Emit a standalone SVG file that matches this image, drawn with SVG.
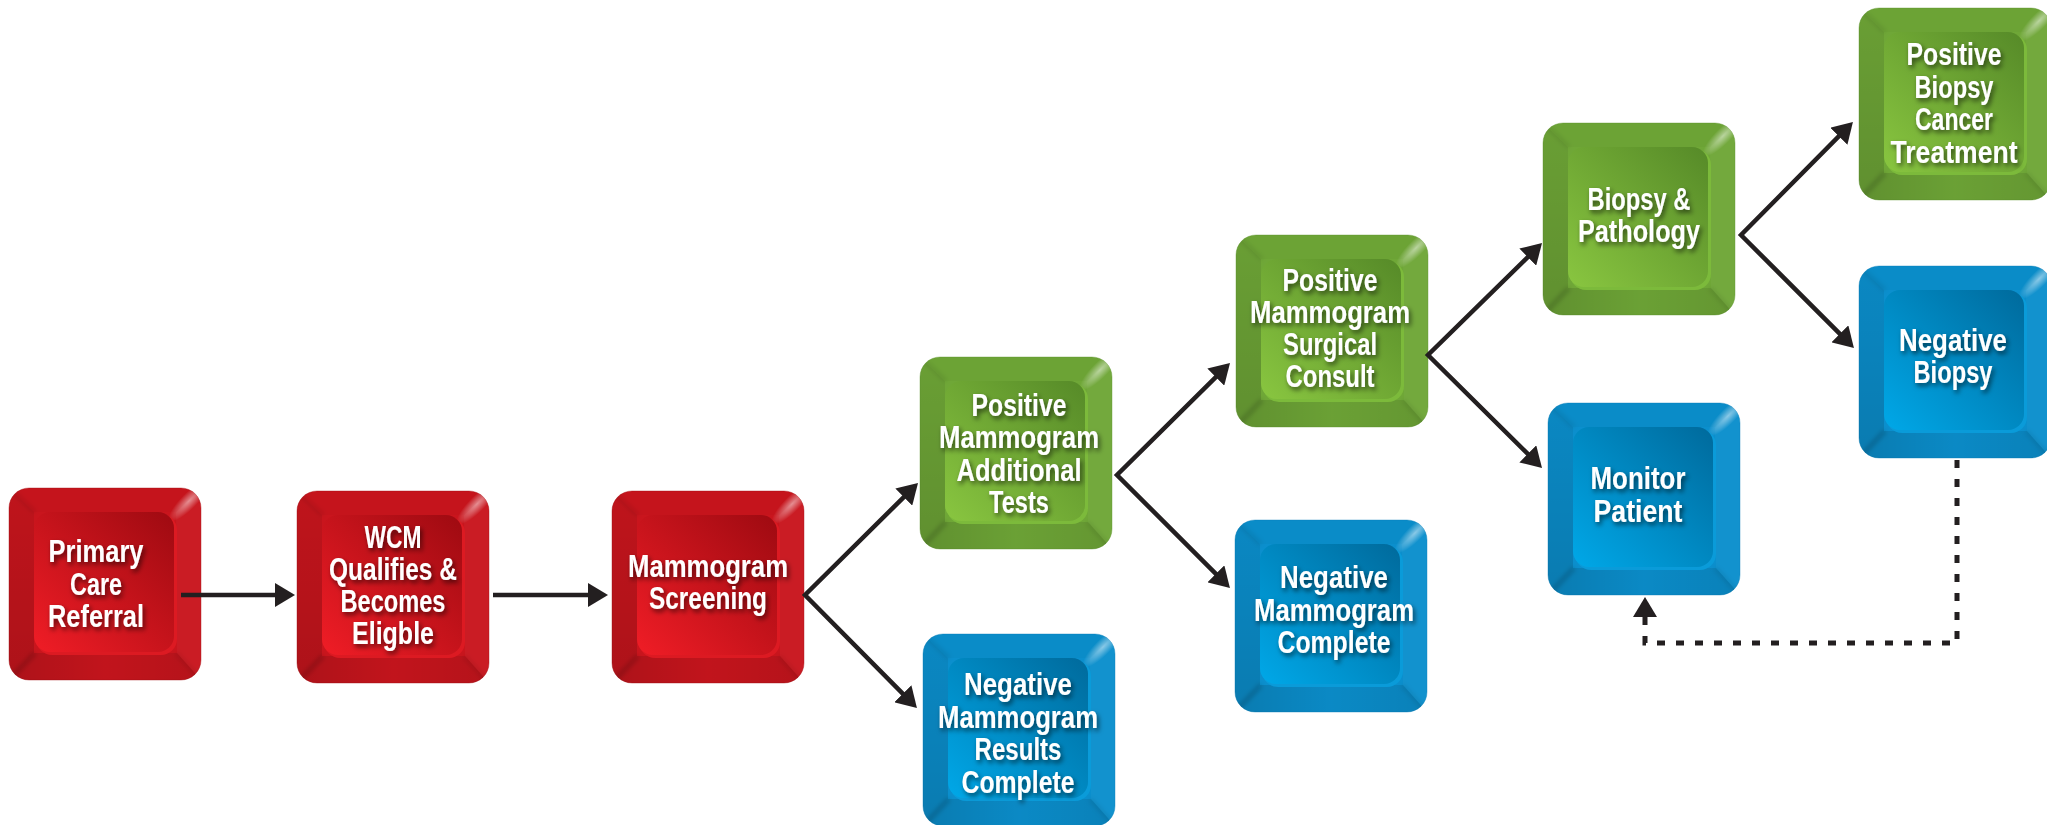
<svg xmlns="http://www.w3.org/2000/svg" xmlns:xlink="http://www.w3.org/1999/xlink" width="2047" height="825" viewBox="0 0 2047 825">
<style>
.lbl{font-family:"Liberation Sans",Arial,sans-serif;font-weight:bold;font-size:32px;fill:#ffffff;text-anchor:middle;filter:url(#ts)}
.con{fill:none;stroke:#231f20;stroke-width:4.5;stroke-linejoin:miter;marker-start:url(#ah);marker-end:url(#ah)}
.one{marker-start:none}
.dash{stroke-width:5;stroke-dasharray:8 11}
</style>
<defs>
<filter id="ts" x="-20%" y="-30%" width="140%" height="170%">
<feDropShadow dx="2" dy="3" stdDeviation="2.5" flood-color="#000" flood-opacity="0.6"/>
</filter>
<filter id="soft" x="-50%" y="-50%" width="200%" height="200%"><feGaussianBlur stdDeviation="2"/></filter>
<marker id="ah" viewBox="0 0 20 24" refX="10" refY="12" markerWidth="20" markerHeight="24" markerUnits="userSpaceOnUse" orient="auto-start-reverse">
<path d="M0,0 L20,12 L0,24 Z" fill="#231f20"/>
</marker>
<clipPath id="capClip"><rect width="192" height="192" rx="20"/></clipPath>
<radialGradient id="hl"><stop offset="0" stop-color="#fff" stop-opacity="0.5"/><stop offset="1" stop-color="#fff" stop-opacity="0"/></radialGradient>
<linearGradient id="leftShade" x1="0" y1="0" x2="0" y2="1"><stop offset="0" stop-color="#000" stop-opacity="0.05"/><stop offset="1" stop-color="#000" stop-opacity="0.14"/></linearGradient>
<linearGradient id="botShade" x1="0" y1="0" x2="1" y2="0"><stop offset="0" stop-color="#000" stop-opacity="0.14"/><stop offset="0.5" stop-color="#000" stop-opacity="0.04"/><stop offset="1" stop-color="#000" stop-opacity="0.1"/></linearGradient>
<linearGradient id="redIn" x1="0" y1="1" x2="1" y2="0"><stop offset="0" stop-color="#f01d26"/><stop offset="1" stop-color="#9e0a11"/></linearGradient>
<linearGradient id="greenIn" x1="0" y1="1" x2="1" y2="0"><stop offset="0" stop-color="#89c640"/><stop offset="1" stop-color="#568a28"/></linearGradient>
<linearGradient id="blueIn" x1="0" y1="1" x2="1" y2="0"><stop offset="0" stop-color="#00a8e8"/><stop offset="1" stop-color="#006a9c"/></linearGradient>
<g id="bevel" clip-path="url(#capClip)">
<polygon points="0,0 192,0 167,24 25,24" fill="#000" fill-opacity="0.02"/>
<polygon points="0,0 25,24 25,165 0,192" fill="url(#leftShade)"/>
<polygon points="0,192 25,165 168,165 192,192" fill="url(#botShade)"/>
<polygon points="192,0 167,24 168,165 192,192" fill="#fff" fill-opacity="0.03"/>
<g filter="url(#soft)">
<line x1="0" y1="192" x2="26" y2="165" stroke="#000" stroke-opacity="0.16" stroke-width="5"/>
<line x1="0" y1="0" x2="26" y2="24" stroke="#000" stroke-opacity="0.08" stroke-width="5"/>
<line x1="192" y1="192" x2="167" y2="165" stroke="#000" stroke-opacity="0.08" stroke-width="5"/>
</g>
<ellipse cx="180" cy="13" rx="8" ry="28" transform="rotate(45 180 13)" fill="url(#hl)"/>
</g>
<g id="capRed">
<rect width="192" height="192" rx="20" fill="#c9151d" stroke="#a80f15" stroke-opacity="0.4"/>
<use href="#bevel"/>
<rect x="27" y="26" width="141" height="141" rx="16" fill="#dc1a22"/>
<rect x="25" y="24" width="140" height="140" rx="16" fill="url(#redIn)"/>
</g>
<g id="capGreen">
<rect width="192" height="192" rx="20" fill="#6fa737" stroke="#5f9630" stroke-opacity="0.4"/>
<use href="#bevel"/>
<rect x="27" y="26" width="141" height="141" rx="16" fill="#7cba3b"/>
<rect x="25" y="24" width="140" height="140" rx="16" fill="url(#greenIn)"/>
</g>
<g id="capBlue">
<rect width="192" height="192" rx="20" fill="#0b8fcd" stroke="#0a7fb8" stroke-opacity="0.4"/>
<use href="#bevel"/>
<rect x="27" y="26" width="141" height="141" rx="16" fill="#0a9bd9"/>
<rect x="25" y="24" width="140" height="140" rx="16" fill="url(#blueIn)"/>
</g>
</defs>
<rect width="2047" height="825" fill="#ffffff"/>

<g id="n-primary-care">
<use href="#capRed" x="9" y="488"/>
<text class="lbl" x="96" y="562" textLength="95" lengthAdjust="spacingAndGlyphs">Primary</text>
<text class="lbl" x="96" y="595" textLength="52" lengthAdjust="spacingAndGlyphs">Care</text>
<text class="lbl" x="96" y="627" textLength="96" lengthAdjust="spacingAndGlyphs">Referral</text>
</g>
<g id="n-wcm">
<use href="#capRed" x="297" y="491"/>
<text class="lbl" x="393" y="548" textLength="57" lengthAdjust="spacingAndGlyphs">WCM</text>
<text class="lbl" x="393" y="580" textLength="128" lengthAdjust="spacingAndGlyphs">Qualifies &amp;</text>
<text class="lbl" x="393" y="612" textLength="105" lengthAdjust="spacingAndGlyphs">Becomes</text>
<text class="lbl" x="393" y="644" textLength="82" lengthAdjust="spacingAndGlyphs">Eligble</text>
</g>
<g id="n-screening">
<use href="#capRed" x="612" y="491"/>
<text class="lbl" x="708" y="577" textLength="160" lengthAdjust="spacingAndGlyphs">Mammogram</text>
<text class="lbl" x="708" y="609" textLength="118" lengthAdjust="spacingAndGlyphs">Screening</text>
</g>
<g id="n-pos-additional">
<use href="#capGreen" x="920" y="357"/>
<text class="lbl" x="1019" y="416" textLength="95" lengthAdjust="spacingAndGlyphs">Positive</text>
<text class="lbl" x="1019" y="448" textLength="160" lengthAdjust="spacingAndGlyphs">Mammogram</text>
<text class="lbl" x="1019" y="481" textLength="125" lengthAdjust="spacingAndGlyphs">Additional</text>
<text class="lbl" x="1019" y="513" textLength="60" lengthAdjust="spacingAndGlyphs">Tests</text>
</g>
<g id="n-neg-results">
<use href="#capBlue" x="923" y="634"/>
<text class="lbl" x="1018" y="695" textLength="108" lengthAdjust="spacingAndGlyphs">Negative</text>
<text class="lbl" x="1018" y="728" textLength="160" lengthAdjust="spacingAndGlyphs">Mammogram</text>
<text class="lbl" x="1018" y="760" textLength="87" lengthAdjust="spacingAndGlyphs">Results</text>
<text class="lbl" x="1018" y="793" textLength="113" lengthAdjust="spacingAndGlyphs">Complete</text>
</g>
<g id="n-pos-surgical">
<use href="#capGreen" x="1236" y="235"/>
<text class="lbl" x="1330" y="291" textLength="95" lengthAdjust="spacingAndGlyphs">Positive</text>
<text class="lbl" x="1330" y="323" textLength="160" lengthAdjust="spacingAndGlyphs">Mammogram</text>
<text class="lbl" x="1330" y="355" textLength="94" lengthAdjust="spacingAndGlyphs">Surgical</text>
<text class="lbl" x="1330" y="387" textLength="89" lengthAdjust="spacingAndGlyphs">Consult</text>
</g>
<g id="n-neg-complete">
<use href="#capBlue" x="1235" y="520"/>
<text class="lbl" x="1334" y="588" textLength="108" lengthAdjust="spacingAndGlyphs">Negative</text>
<text class="lbl" x="1334" y="621" textLength="160" lengthAdjust="spacingAndGlyphs">Mammogram</text>
<text class="lbl" x="1334" y="653" textLength="113" lengthAdjust="spacingAndGlyphs">Complete</text>
</g>
<g id="n-biopsy">
<use href="#capGreen" x="1543" y="123"/>
<text class="lbl" x="1639" y="210" textLength="103" lengthAdjust="spacingAndGlyphs">Biopsy &amp;</text>
<text class="lbl" x="1639" y="242" textLength="122" lengthAdjust="spacingAndGlyphs">Pathology</text>
</g>
<g id="n-monitor">
<use href="#capBlue" x="1548" y="403"/>
<text class="lbl" x="1638" y="489" textLength="95" lengthAdjust="spacingAndGlyphs">Monitor</text>
<text class="lbl" x="1638" y="522" textLength="89" lengthAdjust="spacingAndGlyphs">Patient</text>
</g>
<g id="n-pos-biopsy">
<use href="#capGreen" x="1859" y="8"/>
<text class="lbl" x="1954" y="65" textLength="95" lengthAdjust="spacingAndGlyphs">Positive</text>
<text class="lbl" x="1954" y="98" textLength="79" lengthAdjust="spacingAndGlyphs">Biopsy</text>
<text class="lbl" x="1954" y="130" textLength="78" lengthAdjust="spacingAndGlyphs">Cancer</text>
<text class="lbl" x="1954" y="163" textLength="127" lengthAdjust="spacingAndGlyphs">Treatment</text>
</g>
<g id="n-neg-biopsy">
<use href="#capBlue" x="1859" y="266"/>
<text class="lbl" x="1953" y="351" textLength="108" lengthAdjust="spacingAndGlyphs">Negative</text>
<text class="lbl" x="1953" y="383" textLength="79" lengthAdjust="spacingAndGlyphs">Biopsy</text>
</g>

<g id="connectors">
<path class="con one" d="M181,595 H285"/>
<path class="con one" d="M493,595 H598"/>
<path class="con" d="M910.9,490.1 L805,595 L909.9,700.9"/>
<path class="con" d="M1222.9,370.1 L1117,475 L1222.9,580.9"/>
<path class="con" d="M1534.9,250.1 L1428,355 L1534.9,460.9"/>
<path class="con" d="M1845.9,129.1 L1741,235 L1846.9,340.9"/>
<path class="con one dash" d="M1957,460 V643 H1645 V607"/>
</g>
</svg>
